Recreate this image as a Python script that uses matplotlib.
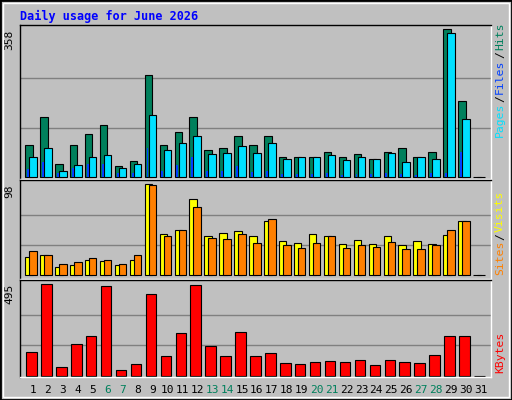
import matplotlib
matplotlib.use("Agg")
import matplotlib.pyplot as plt
from matplotlib.patches import Rectangle
import numpy as np

days = np.arange(1, 32)
hits = [76, 144, 30, 76, 103, 125, 25, 37, 246, 76, 108, 144, 64, 69, 98, 76, 100, 49, 49, 49,
        59, 47, 54, 42, 59, 69, 47, 59, 358, 185, 0]
pages = [49, 69, 15, 28, 47, 52, 20, 30, 149, 66, 81, 100, 54, 57, 74, 57, 81, 42, 47, 49,
         52, 40, 47, 42, 57, 35, 47, 42, 348, 139, 0]
files = [18, 35, 9, 20, 30, 30, 8, 8, 69, 13, 28, 47, 15, 13, 25, 11, 13, 6, 6, 6,
         8, 3, 6, 6, 8, 6, 3, 8, 8, 59, 0]
visits = [20, 22, 9, 11, 17, 16, 11, 17, 98, 45, 49, 82, 42, 46, 48, 42, 59, 37, 35, 44,
          42, 34, 38, 34, 42, 33, 37, 34, 43, 59, 0]
sites = [26, 22, 12, 14, 19, 17, 12, 22, 97, 42, 49, 74, 40, 39, 45, 35, 61, 33, 29, 35,
         42, 29, 33, 30, 36, 28, 28, 33, 49, 58, 0]
kbytes = [126, 495, 45, 170, 213, 484, 29, 61, 441, 105, 229, 490, 159, 105, 235, 105, 121, 67, 61, 72,
          78, 72, 83, 56, 83, 72, 67, 110, 213, 213, 0]
weekends = [6, 7, 13, 14, 20, 21, 27, 28]

BG = "#C0C0C0"
MONO = "DejaVu Sans Mono"
W, H = 512, 400

fig = plt.figure(figsize=(5.12, 4.0), dpi=100, facecolor=BG)
# outer border
fig.patches.append(Rectangle((0, 0), 1, 1, transform=fig.transFigure, fill=False,
                             edgecolor="black", linewidth=2))
fig.patches.append(Rectangle((3 / W, 3 / H), 1 - 6 / W, 1 - 6 / H, transform=fig.transFigure,
                             fill=False, edgecolor="white", linewidth=1))

def panel(top, bottom):
    ax = fig.add_axes([20 / W, 1 - bottom / H, 471 / W, (bottom - top) / H], facecolor=BG)
    ax.set_xlim(0.13, 31.68)
    ax.set_xticks([])
    ax.set_yticks([])
    ax.spines["left"].set_color("black")
    ax.spines["top"].set_color("black")
    ax.spines["right"].set_color("white")
    ax.spines["bottom"].set_color("white")
    for s in ax.spines.values():
        s.set_linewidth(1)
    return ax

def grid(ax, top):
    for f in (1 / 3, 2 / 3):
        ax.axhline(top * f, color="#808080", linewidth=1, zorder=0)

ec = dict(edgecolor="black", linewidth=0.8)

ax1 = panel(25, 179)
ax1.set_ylim(-5.6, 368.5)
grid(ax1, max(hits))
ax1.bar(days - 0.27, hits, 0.5, color="#00805C", zorder=2, **ec)
ax1.bar(days, pages, 0.5, color="#00E0FF", zorder=3, **ec)
ax1.bar(days - 0.33, files, 0.13, color="#0040FF", zorder=4, linewidth=0)

ax2 = panel(180, 279)
ax2.set_ylim(-3.9, 102.6)
grid(ax2, max(visits))
ax2.bar(days - 0.27, visits, 0.5, color="#FFFF00", zorder=2, **ec)
ax2.bar(days, sites, 0.5, color="#FF8000", zorder=3, **ec)

ax3 = panel(280, 377)
ax3.set_ylim(-7, 518)
grid(ax3, max(kbytes))
ax3.bar(days - 0.1, kbytes, 0.7, color="#FF0000", zorder=2, **ec)

for d in days:
    ax3.text(d, -0.08, str(d), transform=ax3.get_xaxis_transform(), ha="center", va="top",
             fontsize=8, family=MONO, color="#00805C" if d in weekends else "black")

fig.text(20 / W, 1 - 16 / H, "Daily usage for June 2026", color="#0000FF", fontsize=8.5,
         family=MONO, fontweight="bold", va="center")

for ax, val in ((ax1, max(hits)), (ax2, max(visits)), (ax3, max(kbytes))):
    ax.text(-0.022, val, str(val), transform=ax.get_yaxis_transform(), rotation=90,
            ha="center", va="top", fontsize=8, family=MONO)

renderer = fig.canvas.get_renderer()

def stack(parts, y_start):
    # y_start: pixel row from the top where the label begins (bottom end)
    y = H - y_start
    for txt, col in parts:
        t = fig.text(500 / W, y / H, txt, rotation=90, ha="center", va="bottom",
                     fontsize=8.2, family=MONO, color=col)
        y += t.get_window_extent(renderer).height + 1

stack([("Pages", "#00E0FF"), ("/", "black"), ("Files", "#0040FF"), ("/", "black"),
       ("Hits", "#00805C")], 137)
stack([("Sites", "#FF8000"), ("/", "black"), ("Visits", "#FFFF00")], 275)
stack([("KBytes", "#FF0000")], 373)

fig.savefig("out.png", dpi=100, facecolor=BG)
